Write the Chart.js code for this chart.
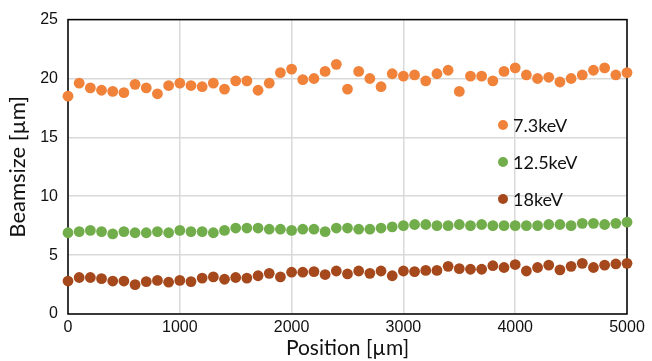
<!DOCTYPE html>
<html>
<head>
<meta charset="utf-8">
<script src="https://cdn.jsdelivr.net/npm/chart.js@4"></script>
<style>
  html, body { margin: 0; padding: 0; background: #fff; }
  #wrap { width: 652px; height: 361px; }
</style>
</head>
<body>
<div id="wrap"><canvas id="beamChart" width="652" height="361"></canvas></div>
<script>
// positions in µm, one sample every 100 µm
const positions = [];
for (let p = 0; p <= 5000; p += 100) positions.push(p);

const beam73 = [18.5, 19.6, 19.2, 19.0, 18.9, 18.8, 19.5, 19.2, 18.7, 19.4,
    19.6, 19.4, 19.3, 19.6, 19.1, 19.8, 19.8, 19.0, 19.6, 20.5,
    20.8, 19.9, 20.0, 20.6, 21.2, 19.1, 20.6, 20.0, 19.3, 20.4,
    20.2, 20.3, 19.8, 20.4, 20.7, 18.9, 20.2, 20.2, 19.8, 20.6,
    20.9, 20.3, 20.0, 20.1, 19.7, 20.0, 20.3, 20.7, 20.9, 20.3, 20.5];
const beam125 = [6.9, 7.0, 7.1, 7.0, 6.8, 7.0, 6.9, 6.9, 7.0, 6.9,
    7.1, 7.0, 7.0, 6.9, 7.1, 7.3, 7.3, 7.3, 7.2, 7.2,
    7.1, 7.2, 7.2, 7.0, 7.3, 7.3, 7.2, 7.2, 7.3, 7.4,
    7.5, 7.6, 7.6, 7.5, 7.5, 7.6, 7.5, 7.6, 7.5, 7.5,
    7.5, 7.5, 7.5, 7.6, 7.6, 7.5, 7.7, 7.7, 7.6, 7.7, 7.8];
const beam18 = [2.8, 3.1, 3.1, 3.0, 2.8, 2.8, 2.5, 2.75, 2.85, 2.7,
    2.85, 2.75, 3.05, 3.15, 2.95, 3.1, 3.05, 3.25, 3.45, 3.15,
    3.55, 3.55, 3.6, 3.35, 3.65, 3.4, 3.65, 3.45, 3.65, 3.25,
    3.65, 3.6, 3.7, 3.7, 4.05, 3.85, 3.8, 3.8, 4.1, 3.95,
    4.2, 3.65, 3.95, 4.15, 3.75, 4.05, 4.3, 3.95, 4.15, 4.25, 4.3];

const seriesNames = ['7.3keV', '12.5keV', '18keV'];
const seriesColors = ['#F0823A', '#72AD4B', '#A5481C'];

const xTicks = [0, 1000, 2000, 3000, 4000, 5000];
const yTicks = [0, 5, 10, 15, 20, 25];

function toPoints(vals) {
    return vals.map((v, i) => ({ x: positions[i], y: v }));
}

const tickFont = { family: 'Liberation Sans, Arial', size: 16 };

// black frame round the plot
const framePlugin = {
    id: 'frame',
    beforeDatasetsDraw(chart) {
        const a = chart.chartArea;
        const ctx = chart.ctx;
        ctx.save();
        ctx.strokeStyle = '#000';
        ctx.lineWidth = 1.5;
        ctx.strokeRect(a.left, a.top, a.right - a.left, a.bottom - a.top);
        ctx.restore();
    }
};

// legend sits inside the plot, right side
const legendPlugin = {
    id: 'innerLegend',
    afterDraw(chart) {
        const ctx = chart.ctx;
        const x0 = 503;
        const rows = [125, 162, 199];
        ctx.save();
        ctx.font = '18px Lato';
        ctx.textBaseline = 'middle';
        seriesNames.forEach((name, i) => {
            ctx.beginPath();
            ctx.fillStyle = seriesColors[i];
            ctx.arc(x0, rows[i], 5, 0, Math.PI * 2);
            ctx.fill();
            ctx.fillStyle = '#111';
            ctx.fillText(name, x0 + 10, rows[i] + 1);
        });
        ctx.restore();
    }
};

const chart = new Chart(document.getElementById('beamChart'), {
    type: 'scatter',
    data: {
        datasets: [beam73, beam125, beam18].map((vals, i) => ({
            label: seriesNames[i],
            data: toPoints(vals),
            backgroundColor: seriesColors[i],
            borderColor: seriesColors[i],
            pointRadius: 5.4,
            pointBorderWidth: 0,
            clip: false
        }))
    },
    options: {
        responsive: false,
        animation: false,
        layout: { padding: { top: 17, right: 25, left: 0, bottom: 0 } },
        plugins: {
            legend: { display: false },
            tooltip: { enabled: false }
        },
        scales: {
            x: {
                type: 'linear',
                min: 0,
                max: 5000,
                afterBuildTicks: s => { s.ticks = xTicks.map(v => ({ value: v })); },
                afterFit: s => { s.height = 47; },
                grid: { color: '#d9d9d9', lineWidth: 1.5, drawTicks: false },
                border: { display: false },
                ticks: { font: tickFont, color: '#111', padding: 4, maxRotation: 0, callback: v => String(v) },
                title: { display: true, text: 'Position [µm]', font: { family: 'Lato', size: 21 }, color: '#111', padding: { top: 0, bottom: 0 } }
            },
            y: {
                min: 0,
                max: 25,
                afterBuildTicks: s => { s.ticks = yTicks.map(v => ({ value: v })); },
                afterFit: s => { s.width = 68; },
                grid: { color: '#d9d9d9', lineWidth: 1.5, drawTicks: false },
                border: { display: false },
                ticks: { font: tickFont, color: '#111', padding: 10, callback: v => String(v) },
                title: { display: true, text: 'Beamsize [µm]', font: { family: 'Lato', size: 22 }, color: '#111', padding: { top: 5, bottom: 0 } }
            }
        }
    },
    plugins: [framePlugin, legendPlugin]
});
</script>
</body>
</html>
